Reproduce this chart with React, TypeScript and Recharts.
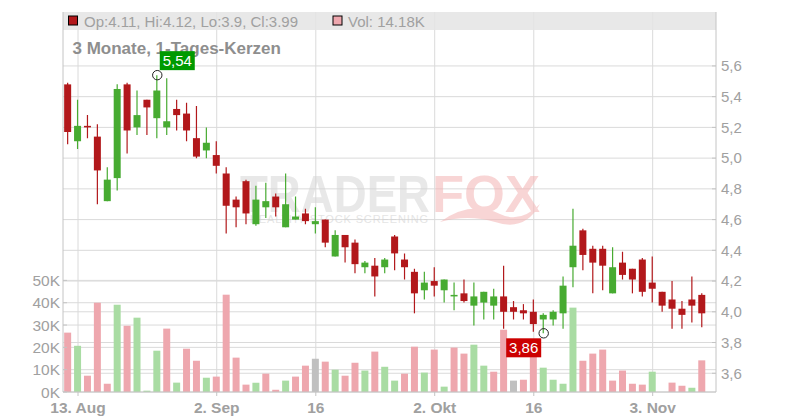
import {
  Bar,
  CartesianGrid,
  Cell,
  ComposedChart,
  Customized,
  ReferenceDot,
  XAxis,
  YAxis,
} from "recharts";

// trading days from 12 Aug (index 0) to 10 Nov (index 64)
const dateTicks = [1, 15, 25, 37, 47, 59];
const dateLabels = ["13. Aug", "2. Sep", "16", "2. Okt", "16", "3. Nov"];

const opens = [
  5.48, 5.11, 5.21, 5.14, 4.72, 4.87, 5.48, 5.2, 5.38, 5.26, 5.2, 5.32, 5.29, 5.13, 5.05, 5.02,
  4.9, 4.73, 4.85, 4.57, 4.68, 4.75, 4.55, 4.6, 4.64, 4.57, 4.6, 4.36, 4.5, 4.45, 4.29, 4.3,
  4.29, 4.49, 4.34, 4.26, 4.14, 4.2, 4.14, 4.1, 4.12, 4.04, 4.06, 4.04, 4.1, 4.03, 4.01, 4.0,
  3.95, 3.95, 3.99, 4.29, 4.53, 4.41, 4.41, 4.12, 4.32, 4.28, 4.34, 4.19, 4.13, 4.08, 4.02, 4.08,
  4.11,
];
const highs = [
  5.49, 5.38, 5.28, 5.22, 4.94, 5.48, 5.49, 5.44, 5.38, 5.54, 5.52, 5.38, 5.36, 5.34, 5.2, 5.11,
  4.94, 4.75, 4.86, 4.82, 4.84, 4.77, 4.9, 4.75, 4.67, 4.68, 4.6, 4.53, 4.5, 4.47, 4.33, 4.35,
  4.35, 4.5, 4.38, 4.28, 4.26, 4.29, 4.21, 4.19, 4.21, 4.19, 4.13, 4.15, 4.3, 4.07, 4.05, 4.08,
  3.99, 4.01, 4.23, 4.67, 4.54, 4.43, 4.43, 4.42, 4.39, 4.28, 4.35, 4.36, 4.13, 4.2, 4.07, 4.23,
  4.12,
];
const lows = [
  5.09, 5.06, 5.13, 4.7, 4.72, 4.79, 5.03, 5.15, 5.15, 5.13, 5.15, 5.18, 5.11, 5.0, 5.0, 4.9,
  4.51, 4.55, 4.57, 4.56, 4.61, 4.62, 4.55, 4.6, 4.57, 4.51, 4.42, 4.36, 4.32, 4.25, 4.25, 4.1,
  4.25, 4.27, 4.21, 3.99, 4.08, 4.1, 4.06, 4.01, 4.06, 3.91, 3.95, 3.95, 3.89, 3.95, 3.95, 3.87,
  3.86, 3.91, 3.89, 4.16, 4.27, 4.12, 4.14, 4.12, 4.21, 4.12, 4.1, 4.06, 4.0, 3.89, 3.89, 3.93,
  3.9,
];
const closes = [
  5.17, 5.21, 5.2, 4.92, 4.86, 5.45, 5.18, 5.28, 5.33, 5.44, 5.24, 5.28, 5.18, 5.01, 5.1, 4.95,
  4.69, 4.68, 4.64, 4.73, 4.72, 4.68, 4.7, 4.62, 4.59, 4.59, 4.45, 4.5, 4.42, 4.31, 4.32, 4.23,
  4.34, 4.38, 4.29, 4.12, 4.19, 4.17, 4.21, 4.11, 4.07, 4.1, 4.13, 4.1, 4.0, 4.0, 3.99, 3.92,
  3.98, 4.0, 4.17, 4.43, 4.37, 4.32, 4.3, 4.29, 4.24, 4.21, 4.13, 4.15, 4.04, 4.02, 3.98, 4.04,
  3.99,
];
const volumes = [
  26600, 20700, 7300, 40000, 3700, 39100, 29700, 33300, 600, 18500, 28400, 4200, 19400, 14000,
  6400, 6900, 43600, 15400, 3300, 4200, 8200, 1000, 5100, 6900, 11800, 14900, 13600, 10000, 7300,
  13100, 9600, 18100, 11300, 5100, 8200, 20300, 8700, 19000, 2400, 19900, 17200, 21200, 11800,
  9100, 27900, 5100, 5500, 18000, 10900, 5500, 3700, 37800, 14000, 17200, 19000, 5100, 9600, 3700,
  3300, 9100, 0, 4200, 2800, 1900, 14180,
];

const priceTicks = [3.6, 3.8, 4.0, 4.2, 4.4, 4.6, 4.8, 5.0, 5.2, 5.4, 5.6];
const volumeTicks = [0, 10000, 20000, 30000, 40000, 50000];

const data = opens.map((open, i) => ({
  i,
  open,
  high: highs[i],
  low: lows[i],
  close: closes[i],
  volume: volumes[i],
}));

const UP = "#47ab31";
const DOWN = "#b2181b";
const VOL_UP = "#a9dca3";
const VOL_DOWN = "#eea7ae";
const VOL_FLAT = "#c0c0c0";
const GRID = "#dadada";
const AXIS = "#c4c4c4";
const TEXT = "#a0a0a0";
const FONT = "'Liberation Sans', Arial, sans-serif";

// volume colour follows close vs previous close
const volColor = (i: number) => {
  const prev = i === 0 ? opens[0] : closes[i - 1];
  if (closes[i] > prev) return VOL_UP;
  if (closes[i] < prev) return VOL_DOWN;
  return VOL_FLAT;
};

const fmt1 = (v: number) => v.toFixed(1).replace(".", ",");
const fmt2 = (v: number) => v.toFixed(2).replace(".", ",");

function Candle(props: any) {
  const { x, y, width, height, payload } = props;
  const top = Math.min(y, y + height);
  const h = Math.abs(height);
  const range = payload.high - payload.low || 1;
  const py = (v: number) => top + ((payload.high - v) / range) * h;
  const color = payload.close >= payload.open ? UP : DOWN;
  const cx = x + width / 2;
  const bTop = py(Math.max(payload.open, payload.close));
  const bBot = py(Math.min(payload.open, payload.close));
  return (
    <g>
      <line x1={cx} x2={cx} y1={top} y2={top + h} stroke={color} strokeWidth={1.2} />
      <rect x={x} y={bTop} width={width} height={Math.max(bBot - bTop, 1.5)} fill={color} />
    </g>
  );
}

function PriceTick(props: any) {
  const { x, y, payload } = props;
  return (
    <g>
      <line x1={x - 9} x2={x - 5} y1={y} y2={y} stroke={AXIS} />
      <text x={x} y={y} dy="0.355em" fill={TEXT} fontSize={15} fontFamily={FONT} textAnchor="start">
        {fmt1(payload.value)}
      </text>
    </g>
  );
}

function VolumeTick(props: any) {
  const { x, y, payload } = props;
  return (
    <g>
      <line x1={x + 3} x2={x + 7} y1={y} y2={y} stroke={AXIS} />
      <text x={x} y={y} dy="0.355em" fill={TEXT} fontSize={15.5} fontFamily={FONT} textAnchor="end">
        {payload.value / 1000}K
      </text>
    </g>
  );
}

function Overlay() {
  const last = data.length - 1;
  return (
    <g fontFamily={FONT}>
      <g opacity={0.55}>
        <text x={240} y={212} fontSize={52} fontWeight="bold" fill="#d6d6d6" textLength={190} lengthAdjust="spacingAndGlyphs">
          TRADER
        </text>
        <text x={432} y={212} fontSize={52} fontWeight="bold" fill="#f4b4b4" textLength={108} lengthAdjust="spacingAndGlyphs">
          FOX
        </text>
        <text x={250} y={223} fontSize={11} fill="#cfcfcf" textLength={178} lengthAdjust="spacing">
          HEALTHY STOCK SCREENING
        </text>
        <path d="M440 222 Q470 200 500 214 Q520 224 540 204 Q525 232 495 222 Q468 214 440 222 Z" fill="#f4b4b4" />
      </g>
      <rect x={63} y={12} width={653} height={18} fill="#e4e4e4" fillOpacity={0.85} />
      <rect x={68.5} y={16} width={9} height={9} fill={DOWN} stroke="#000" strokeWidth={1} />
      <text x={84} y={26.5} fontSize={15} fill={TEXT}>
        {`Op:${opens[last]}, Hi:${highs[last]}, Lo:${lows[last]}, Cl:${closes[last]}`}
      </text>
      <rect x={333} y={16} width={9} height={9} fill={VOL_DOWN} stroke="#000" strokeWidth={1} />
      <text x={348} y={26.5} fontSize={15} fill={TEXT}>
        {`Vol: ${(volumes[last] / 1000).toFixed(2)}K`}
      </text>
      <text x={72.5} y={54} fontSize={17} fontWeight="bold" fill="#8e8e8e">
        3 Monate, 1-Tages-Kerzen
      </text>
    </g>
  );
}

function Marker(props: any, label: string, fill: string, above: boolean) {
  const { cx, cy } = props;
  const w = 35;
  const h = 19;
  const bx = above ? cx + 2.5 : cx - 2.5 - w;
  const by = above ? cy - 5 - h : cy + 5;
  return (
    <g fontFamily={FONT}>
      <rect x={bx} y={by} width={w} height={h} fill={fill} />
      <text x={bx + w / 2} y={by + h / 2} dy="0.355em" textAnchor="middle" fontSize={15} fill="#fff">
        {label}
      </text>
      <circle cx={cx} cy={cy} r={4.7} fill="none" stroke="#222" strokeWidth={1} />
    </g>
  );
}

const maxIdx = highs.indexOf(Math.max(...highs));
const minIdx = lows.indexOf(Math.min(...lows));

export default function App() {
  return (
    <div style={{ width: 800, height: 420, background: "#fff" }}>
      <style>{"body{margin:0}"}</style>
      <ComposedChart
        width={800}
        height={420}
        data={data}
        margin={{ top: 12, right: 0, left: 0, bottom: 0 }}
        style={{ fontFamily: FONT }}
      >
        <CartesianGrid xAxisId="main" yAxisId="price" stroke={GRID} horizontalValues={priceTicks} verticalValues={dateTicks} />
        <CartesianGrid xAxisId="main" yAxisId="vol" stroke={GRID} vertical={false} horizontalValues={volumeTicks} />
        <XAxis
          xAxisId="main"
          dataKey="i"
          type="number"
          domain={[-0.515, 65.39]}
          ticks={dateTicks}
          interval={0}
          tickFormatter={(v: number) => dateLabels[dateTicks.indexOf(v)] ?? ""}
          height={28}
          tickSize={4}
          tickMargin={6}
          stroke={AXIS}
          tick={{ fill: TEXT, fontSize: 15.5, fontWeight: "bold", fontFamily: FONT }}
        />
        <XAxis xAxisId="volx" dataKey="i" type="number" domain={[-0.515, 65.39]} hide />
        <YAxis
          yAxisId="vol"
          orientation="left"
          width={63}
          domain={[0, 170250]}
          ticks={volumeTicks}
          interval={0}
          tickSize={0}
          tickMargin={3}
          stroke={AXIS}
          tick={<VolumeTick />}
        />
        <YAxis
          yAxisId="price"
          orientation="right"
          width={84}
          domain={[3.478, 5.951]}
          ticks={priceTicks}
          interval={0}
          tickSize={0}
          tickMargin={5}
          stroke={AXIS}
          tick={<PriceTick />}
          allowDataOverflow
        />
        <Customized component={Overlay} />
        <Bar xAxisId="volx" yAxisId="vol" dataKey="volume" barSize={7} isAnimationActive={false}>
          {data.map((d) => (
            <Cell key={d.i} fill={volColor(d.i)} />
          ))}
        </Bar>
        <Bar
          xAxisId="main"
          yAxisId="price"
          dataKey={(d: any) => [d.low, d.high]}
          barSize={7}
          isAnimationActive={false}
          shape={(p: any) => <Candle {...p} />}
        />
        <ReferenceDot
          xAxisId="main"
          yAxisId="price"
          x={maxIdx}
          y={highs[maxIdx]}
          ifOverflow="visible"
          shape={(p: any) => Marker(p, fmt2(highs[maxIdx]), "#009a00", true)}
        />
        <ReferenceDot
          xAxisId="main"
          yAxisId="price"
          x={minIdx}
          y={lows[minIdx]}
          ifOverflow="visible"
          shape={(p: any) => Marker(p, fmt2(lows[minIdx]), "#cc0000", false)}
        />
      </ComposedChart>
    </div>
  );
}
